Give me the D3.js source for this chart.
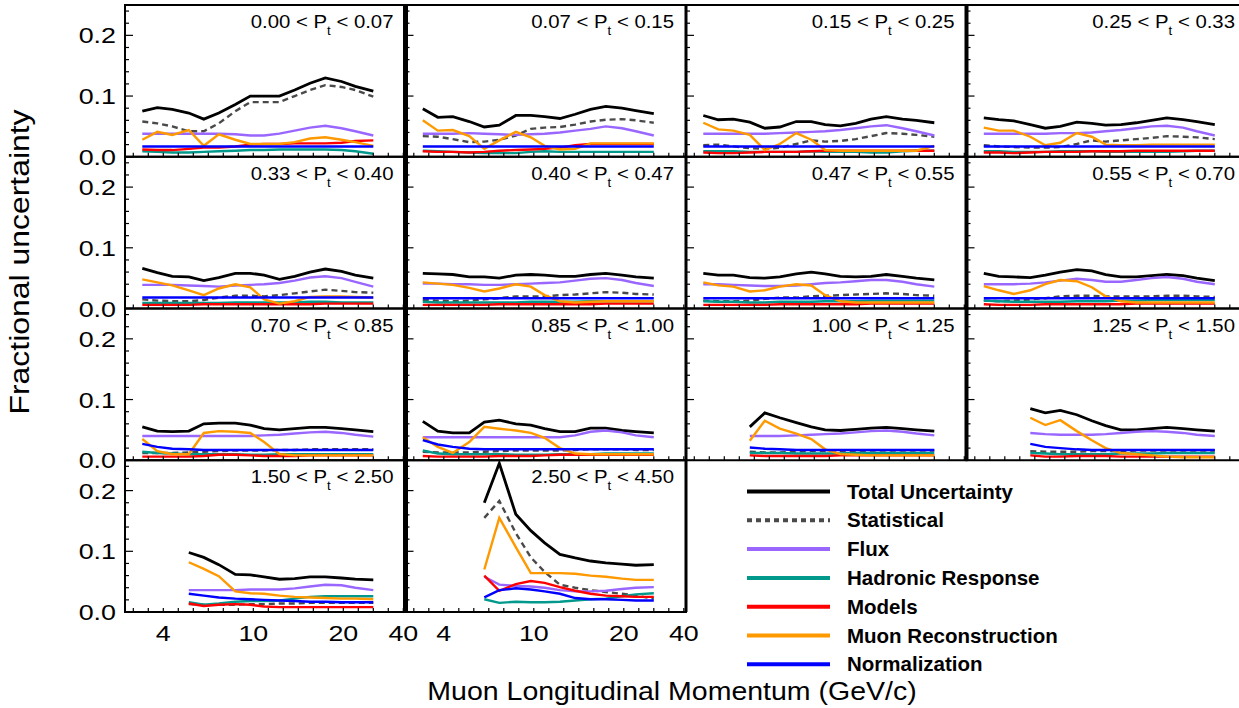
<!DOCTYPE html>
<html><head><meta charset="utf-8">
<script src="https://cdn.jsdelivr.net/npm/d3@7"></script>
<style>body{margin:0;background:#fff}svg{display:block}</style>
</head><body>
<svg id="chart" width="1239" height="708"></svg>
<script>
// ---------------- DATA ----------------
const ptEdges = ["0.00","0.07","0.15","0.25","0.33","0.40","0.47","0.55","0.70","0.85","1.00","1.25","1.50","2.50","4.50"];
// muon longitudinal momentum (GeV/c) of the plotted points
const pz = [2.6, 3.6, 4.6, 5.7, 6.7, 7.7, 8.8, 9.8, 11.2, 12.9, 14.6, 16.3, 18.0, 19.8, 24.0, 30.0];
const xTickLabels = [4, 10, 20, 40];
const xMinorTicks = [2,3,4,5,6,7,8,9,10,11.67,13.33,15,16.67,18.33,20,25,30,35,40];
const yTickLabels = [0.0, 0.1, 0.2];
const yMinorTicks = [0.02,0.04,0.06,0.08,0.12,0.14,0.16,0.18,0.22,0.24];
const seriesNames = ["Total Uncertainty","Statistical","Flux","Hadronic Response","Models","Muon Reconstruction","Normalization"];
const seriesColors = ["#000000","#4a4a4a","#9966ff","#00998c","#ff0000","#ff9900","#0000ff"];
const N = null;

const total = [
 [0.075,0.081,0.078,0.072,0.062,0.072,0.086,0.100,0.100,0.100,0.110,0.121,0.130,0.124,0.116,0.108],
 [0.079,0.065,0.066,0.058,0.049,0.052,0.068,0.068,0.066,0.063,0.070,0.078,0.083,0.080,0.076,0.071],
 [0.068,0.061,0.062,0.057,0.047,0.049,0.058,0.058,0.053,0.051,0.055,0.062,0.066,0.062,0.060,0.056],
 [0.064,0.061,0.059,0.053,0.047,0.050,0.057,0.055,0.052,0.053,0.056,0.060,0.064,0.061,0.058,0.053],
 [0.066,0.059,0.053,0.052,0.046,0.051,0.058,0.058,0.055,0.048,0.053,0.060,0.065,0.061,0.055,0.050],
 [0.058,0.057,0.056,0.052,0.052,0.050,0.055,0.056,0.055,0.053,0.053,0.056,0.058,0.055,0.052,0.050],
 [0.058,0.055,0.055,0.051,0.050,0.052,0.057,0.060,0.057,0.053,0.052,0.053,0.056,0.053,0.050,0.047],
 [0.058,0.053,0.052,0.051,0.055,0.060,0.064,0.062,0.056,0.052,0.052,0.054,0.056,0.054,0.050,0.046],
 [0.055,0.048,0.047,0.048,0.060,0.061,0.061,0.058,0.052,0.050,0.052,0.054,0.054,0.052,0.050,0.047],
 [0.064,0.048,0.045,0.045,0.063,0.066,0.060,0.058,0.052,0.047,0.047,0.053,0.053,0.049,0.047,0.045],
 [N,N,N,0.055,0.078,0.070,0.062,0.055,0.050,0.049,0.051,0.053,0.054,0.052,0.050,0.048],
 [N,N,N,0.085,0.078,0.082,0.075,0.065,0.057,0.050,0.050,0.052,0.054,0.052,0.050,0.048],
 [N,N,N,0.098,0.090,0.078,0.062,0.061,0.058,0.054,0.055,0.058,0.058,0.056,0.054,0.053],
 [N,N,N,N,0.180,0.245,0.161,0.134,0.114,0.095,0.089,0.084,0.081,0.079,0.077,0.078]
];
const statistical = [
 [0.058,0.055,0.050,0.042,0.042,0.055,0.075,0.090,0.090,0.090,0.100,0.110,0.118,0.115,0.110,0.099],
 [0.034,0.033,0.029,0.024,0.025,0.028,0.035,0.046,0.048,0.049,0.053,0.058,0.061,0.062,0.060,0.056],
 [0.019,0.020,0.017,0.014,0.013,0.015,0.021,0.027,0.025,0.026,0.029,0.034,0.039,0.038,0.036,0.033],
 [0.019,0.017,0.016,0.015,0.015,0.016,0.021,0.027,0.025,0.027,0.029,0.031,0.034,0.033,0.032,0.029],
 [0.015,0.013,0.012,0.012,0.014,0.018,0.021,0.021,0.020,0.022,0.025,0.028,0.031,0.029,0.027,0.026],
 [0.014,0.013,0.012,0.013,0.015,0.017,0.020,0.020,0.020,0.022,0.023,0.025,0.027,0.026,0.024,0.023],
 [0.013,0.012,0.012,0.013,0.016,0.018,0.018,0.020,0.021,0.022,0.023,0.024,0.025,0.024,0.022,0.021],
 [0.013,0.012,0.013,0.015,0.017,0.020,0.021,0.021,0.020,0.020,0.020,0.020,0.021,0.021,0.020,0.019],
 [0.012,0.012,0.012,0.013,0.014,0.015,0.016,0.016,0.016,0.017,0.017,0.018,0.018,0.018,0.018,0.018],
 [0.014,0.013,0.013,0.013,0.014,0.015,0.016,0.016,0.016,0.016,0.017,0.018,0.018,0.018,0.017,0.017],
 [N,N,N,0.014,0.013,0.013,0.014,0.015,0.015,0.015,0.015,0.016,0.016,0.016,0.016,0.016],
 [N,N,N,0.015,0.014,0.014,0.014,0.015,0.015,0.015,0.016,0.016,0.016,0.016,0.016,0.016],
 [N,N,N,0.013,0.012,0.012,0.012,0.013,0.013,0.014,0.014,0.015,0.015,0.015,0.015,0.015],
 [N,N,N,N,0.155,0.183,0.130,0.090,0.066,0.045,0.040,0.036,0.033,0.030,0.027,0.022]
];
const flux = [
 [0.038,0.038,0.038,0.038,0.038,0.038,0.037,0.035,0.035,0.038,0.043,0.048,0.051,0.047,0.042,0.035],
 [0.038,0.038,0.038,0.039,0.038,0.037,0.036,0.037,0.038,0.040,0.043,0.046,0.050,0.047,0.042,0.035],
 [0.038,0.038,0.038,0.038,0.038,0.039,0.040,0.041,0.042,0.044,0.047,0.050,0.052,0.047,0.042,0.035],
 [0.038,0.038,0.038,0.038,0.038,0.039,0.039,0.040,0.042,0.044,0.047,0.050,0.051,0.048,0.042,0.035],
 [0.039,0.039,0.039,0.038,0.037,0.036,0.038,0.039,0.040,0.042,0.046,0.051,0.053,0.050,0.044,0.036],
 [0.041,0.041,0.040,0.040,0.039,0.039,0.040,0.041,0.042,0.043,0.046,0.049,0.050,0.047,0.042,0.037],
 [0.040,0.040,0.039,0.038,0.037,0.037,0.038,0.040,0.042,0.043,0.045,0.047,0.047,0.044,0.040,0.036],
 [0.040,0.040,0.040,0.041,0.043,0.046,0.049,0.047,0.044,0.044,0.047,0.050,0.052,0.049,0.044,0.040],
 [0.040,0.040,0.040,0.040,0.040,0.040,0.040,0.040,0.041,0.042,0.044,0.046,0.047,0.045,0.042,0.039],
 [0.038,0.038,0.038,0.038,0.038,0.038,0.038,0.038,0.038,0.038,0.041,0.047,0.049,0.046,0.041,0.038],
 [N,N,N,0.040,0.040,0.040,0.041,0.042,0.043,0.044,0.046,0.048,0.049,0.047,0.044,0.041],
 [N,N,N,0.045,0.043,0.042,0.042,0.042,0.043,0.045,0.047,0.048,0.047,0.045,0.042,0.040],
 [N,N,N,0.036,0.036,0.036,0.036,0.037,0.037,0.037,0.039,0.042,0.045,0.044,0.040,0.036],
 [N,N,N,N,0.058,0.045,0.043,0.042,0.040,0.036,0.034,0.034,0.035,0.038,0.040,0.041]
];
const hadronic = [
 [0.009,0.008,0.007,0.007,0.008,0.009,0.010,0.011,0.011,0.012,0.012,0.012,0.012,0.011,0.009,0.005],
 [0.010,0.009,0.008,0.007,0.006,0.006,0.006,0.008,0.009,0.008,0.008,0.008,0.008,0.008,0.008,0.008],
 [0.009,0.009,0.009,0.008,0.008,0.008,0.008,0.009,0.008,0.008,0.008,0.007,0.007,0.009,0.010,0.010],
 [0.009,0.009,0.008,0.008,0.008,0.009,0.009,0.009,0.008,0.008,0.008,0.008,0.008,0.009,0.010,0.010],
 [0.009,0.009,0.009,0.009,0.009,0.009,0.010,0.010,0.010,0.010,0.010,0.011,0.011,0.010,0.010,0.010],
 [0.011,0.010,0.010,0.010,0.010,0.010,0.010,0.011,0.011,0.011,0.011,0.012,0.012,0.012,0.012,0.012],
 [0.012,0.011,0.011,0.010,0.010,0.011,0.011,0.011,0.012,0.012,0.012,0.013,0.013,0.013,0.013,0.013],
 [0.013,0.012,0.011,0.011,0.011,0.011,0.012,0.012,0.012,0.013,0.013,0.014,0.014,0.014,0.014,0.014],
 [0.014,0.012,0.011,0.010,0.010,0.010,0.010,0.009,0.009,0.010,0.010,0.010,0.010,0.010,0.010,0.010],
 [0.016,0.011,0.010,0.010,0.010,0.010,0.009,0.009,0.009,0.010,0.010,0.010,0.011,0.011,0.011,0.011],
 [N,N,N,0.012,0.012,0.012,0.011,0.011,0.011,0.011,0.012,0.012,0.012,0.012,0.012,0.012],
 [N,N,N,0.012,0.011,0.010,0.010,0.010,0.010,0.011,0.011,0.011,0.012,0.012,0.012,0.012],
 [N,N,N,0.016,0.012,0.014,0.017,0.018,0.018,0.019,0.022,0.025,0.026,0.026,0.026,0.026],
 [N,N,N,N,0.021,0.015,0.017,0.016,0.016,0.017,0.019,0.021,0.022,0.026,0.029,0.031]
];
const models = [
 [0.012,0.011,0.011,0.013,0.015,0.015,0.017,0.020,0.021,0.021,0.022,0.022,0.022,0.023,0.026,0.027],
 [0.009,0.008,0.008,0.007,0.008,0.010,0.011,0.012,0.013,0.015,0.019,0.021,0.021,0.021,0.021,0.021],
 [0.007,0.006,0.006,0.007,0.008,0.008,0.008,0.009,0.010,0.010,0.010,0.010,0.010,0.010,0.010,0.010],
 [0.007,0.007,0.006,0.007,0.008,0.008,0.008,0.009,0.009,0.009,0.010,0.010,0.010,0.010,0.010,0.010],
 [0.006,0.006,0.006,0.006,0.007,0.007,0.007,0.007,0.007,0.007,0.007,0.007,0.008,0.008,0.008,0.008],
 [0.006,0.006,0.006,0.006,0.006,0.007,0.007,0.007,0.007,0.007,0.007,0.007,0.008,0.008,0.008,0.008],
 [0.006,0.006,0.006,0.006,0.006,0.007,0.007,0.007,0.007,0.007,0.007,0.008,0.008,0.008,0.008,0.008],
 [0.007,0.006,0.006,0.006,0.007,0.007,0.007,0.007,0.007,0.007,0.008,0.008,0.008,0.008,0.008,0.008],
 [0.006,0.006,0.006,0.006,0.007,0.009,0.009,0.008,0.007,0.007,0.007,0.008,0.008,0.008,0.008,0.008],
 [0.007,0.006,0.006,0.006,0.006,0.007,0.007,0.007,0.008,0.009,0.009,0.009,0.009,0.009,0.009,0.009],
 [N,N,N,0.008,0.007,0.007,0.007,0.007,0.007,0.008,0.008,0.008,0.008,0.008,0.008,0.008],
 [N,N,N,0.008,0.006,0.006,0.007,0.007,0.007,0.006,0.006,0.006,0.006,0.006,0.006,0.006],
 [N,N,N,0.014,0.010,0.012,0.013,0.012,0.009,0.008,0.008,0.008,0.008,0.008,0.008,0.008],
 [N,N,N,N,0.060,0.035,0.046,0.051,0.048,0.041,0.035,0.030,0.027,0.026,0.025,0.025]
];
const muonReco = [
 [0.028,0.041,0.036,0.044,0.018,0.037,0.028,0.021,0.021,0.021,0.024,0.030,0.032,0.028,0.024,0.018],
 [0.060,0.043,0.044,0.034,0.013,0.027,0.041,0.032,0.018,0.012,0.013,0.022,0.022,0.022,0.022,0.022],
 [0.056,0.045,0.043,0.036,0.011,0.021,0.039,0.028,0.011,0.010,0.010,0.010,0.010,0.010,0.010,0.018],
 [0.048,0.043,0.043,0.033,0.019,0.023,0.039,0.033,0.020,0.019,0.019,0.020,0.020,0.020,0.020,0.020],
 [0.048,0.043,0.038,0.030,0.022,0.033,0.040,0.035,0.015,0.008,0.012,0.019,0.020,0.020,0.019,0.018],
 [0.043,0.041,0.039,0.034,0.028,0.033,0.040,0.036,0.022,0.012,0.010,0.011,0.012,0.012,0.012,0.012],
 [0.043,0.038,0.036,0.028,0.030,0.036,0.040,0.038,0.022,0.012,0.010,0.010,0.010,0.010,0.010,0.010],
 [0.037,0.030,0.024,0.030,0.040,0.047,0.045,0.035,0.020,0.012,0.010,0.010,0.010,0.010,0.010,0.010],
 [0.035,0.015,0.010,0.010,0.045,0.048,0.047,0.045,0.030,0.010,0.008,0.008,0.008,0.008,0.008,0.008],
 [0.038,0.022,0.012,0.030,0.055,0.052,0.049,0.045,0.037,0.020,0.011,0.010,0.010,0.010,0.010,0.010],
 [N,N,N,0.032,0.065,0.052,0.044,0.035,0.018,0.010,0.009,0.008,0.008,0.008,0.008,0.008],
 [N,N,N,0.070,0.058,0.066,0.048,0.033,0.020,0.012,0.010,0.008,0.006,0.005,0.005,0.005],
 [N,N,N,0.082,0.071,0.059,0.034,0.031,0.030,0.027,0.025,0.024,0.023,0.022,0.022,0.021],
 [N,N,N,N,0.070,0.155,0.107,0.064,0.064,0.064,0.063,0.060,0.058,0.055,0.053,0.053]
];
const normalization = [
 [0.017,0.017,0.017,0.017,0.017,0.017,0.017,0.017,0.017,0.017,0.017,0.017,0.017,0.017,0.017,0.017],
 [0.017,0.017,0.017,0.017,0.017,0.017,0.017,0.017,0.017,0.017,0.017,0.017,0.017,0.017,0.017,0.017],
 [0.017,0.017,0.017,0.017,0.017,0.017,0.017,0.017,0.017,0.017,0.017,0.017,0.017,0.017,0.017,0.017],
 [0.017,0.017,0.017,0.017,0.017,0.017,0.017,0.017,0.017,0.017,0.017,0.017,0.017,0.017,0.017,0.017],
 [0.018,0.018,0.018,0.018,0.018,0.018,0.018,0.018,0.018,0.018,0.018,0.018,0.018,0.018,0.018,0.018],
 [0.017,0.017,0.017,0.017,0.017,0.017,0.017,0.017,0.017,0.017,0.017,0.017,0.017,0.017,0.017,0.017],
 [0.017,0.017,0.017,0.017,0.017,0.017,0.017,0.017,0.017,0.017,0.017,0.017,0.017,0.017,0.017,0.017],
 [0.017,0.017,0.017,0.017,0.017,0.017,0.017,0.017,0.017,0.017,0.017,0.017,0.017,0.017,0.017,0.017],
 [0.027,0.022,0.019,0.018,0.017,0.017,0.017,0.017,0.017,0.017,0.017,0.017,0.017,0.017,0.017,0.017],
 [0.033,0.026,0.022,0.019,0.018,0.018,0.018,0.018,0.018,0.018,0.018,0.018,0.018,0.018,0.018,0.018],
 [N,N,N,0.021,0.019,0.018,0.017,0.017,0.017,0.017,0.017,0.017,0.017,0.017,0.017,0.017],
 [N,N,N,0.027,0.022,0.020,0.018,0.017,0.017,0.017,0.017,0.017,0.017,0.017,0.017,0.017],
 [N,N,N,0.030,0.027,0.024,0.022,0.021,0.020,0.019,0.018,0.017,0.017,0.016,0.016,0.016],
 [N,N,N,N,0.024,0.036,0.039,0.037,0.034,0.030,0.023,0.021,0.021,0.020,0.019,0.019]
];
const seriesData = [total, statistical, flux, hadronic, models, muonReco, normalization];

// ---------------- LAYOUT ----------------
const LEFT = 125, TOP = 5, PW = 280.5, PH = 151.75;
const FONT = "'Liberation Sans', Arial, Helvetica, sans-serif";
const svg = d3.select("#chart");

const x = d3.scaleLinear().domain([2, 4, 10, 20, 40]).range([8.3, 38.3, 128.3, 218.3, 278.3]);
const y = d3.scaleLinear().domain([0, 0.25]).range([PH, 0]);

function sText(parent, tx, ty, str, size, anchor, sx, extra) {
  const t = parent.append("text")
    .attr("transform", `translate(${tx},${ty}) ${extra || ""} scale(${sx},1)`)
    .attr("text-anchor", anchor)
    .attr("font-family", FONT)
    .attr("font-size", size)
    .attr("fill", "#000");
  if (str !== null) t.text(str);
  return t;
}

const line = d3.line()
  .defined(d => d[1] !== null)
  .x(d => x(d[0]))
  .y(d => y(d[1]));

for (let p = 0; p < 14; p++) {
  const row = Math.floor(p / 4), col = p % 4;
  const ox = LEFT + col * PW, oy = TOP + row * PH;
  const g = svg.append("g").attr("transform", `translate(${ox},${oy})`);
  g.append("clipPath").attr("id", "clip" + p)
    .append("rect").attr("x", 0).attr("y", 0).attr("width", PW).attr("height", PH);
  const lines = g.append("g").attr("clip-path", `url(#clip${p})`);
  seriesData.forEach((s, si) => {
    const pts = pz.map((v, i) => [v, s[p][i]]);
    lines.append("path")
      .attr("d", line(pts))
      .attr("fill", "none")
      .attr("stroke", seriesColors[si])
      .attr("stroke-width", si === 0 ? 2.8 : 2.4)
      .attr("stroke-dasharray", si === 1 ? "6,4" : null)
      .attr("stroke-linejoin", "miter");
  });
  // y ticks (inward on left axis)
  yTickLabels.forEach(v => g.append("line").attr("x1", 0).attr("x2", 8)
    .attr("y1", y(v)).attr("y2", y(v)).attr("stroke", "#000").attr("stroke-width", 1.2));
  yMinorTicks.forEach(v => g.append("line").attr("x1", 0).attr("x2", 4)
    .attr("y1", y(v)).attr("y2", y(v)).attr("stroke", "#000").attr("stroke-width", 1.2));
  // x ticks (inward on bottom axis)
  xMinorTicks.forEach(v => g.append("line").attr("x1", x(v)).attr("x2", x(v))
    .attr("y1", PH).attr("y2", PH - 4).attr("stroke", "#000").attr("stroke-width", 1.2));
  // frame
  g.append("rect").attr("x", 0).attr("y", 0).attr("width", PW).attr("height", PH)
    .attr("fill", "none").attr("stroke", "#000").attr("stroke-width", 2);
  // title
  const t = sText(g, PW - 12, 23, null, 18.5, "end", 1.1);
  t.append("tspan").text(`${ptEdges[p]} < P`);
  t.append("tspan").attr("font-size", 12).attr("dy", 7).text("t");
  t.append("tspan").attr("dy", -7).text(` < ${ptEdges[p + 1]}`);

  // y tick labels on left column
  if (col === 0) {
    yTickLabels.forEach(v => sText(svg, 116, oy + y(v) + 8, v.toFixed(1), 22, "end", 1.22));
  }
  // x tick labels below bottom-row panels
  if (row === 3) {
    xTickLabels.forEach(v => sText(svg, ox + x(v), 641, String(v), 22, "middle", 1.22));
  }
}

// thick column separators
[[1, 4, 5], [2, 4, 3], [3, 3, 4]].forEach(([c, nrows, w]) => {
  svg.append("line").attr("x1", LEFT + c * PW).attr("x2", LEFT + c * PW)
    .attr("y1", TOP).attr("y2", TOP + nrows * PH)
    .attr("stroke", "#000").attr("stroke-width", w);
});

// axis titles
sText(svg, 672, 700, "Muon Longitudinal Momentum (GeV/c)", 25, "middle", 1.14);
sText(svg, 29, 262, "Fractional uncertainty", 28, "middle", 1.14, "rotate(-90)");

// legend
const legY0 = 491.5, legDy = 28.8;
seriesNames.forEach((name, i) => {
  const ly = legY0 + i * legDy;
  svg.append("line").attr("x1", 747).attr("x2", 830).attr("y1", ly).attr("y2", ly)
    .attr("stroke", seriesColors[i]).attr("stroke-width", 4)
    .attr("stroke-dasharray", i === 1 ? "5,4" : null);
  svg.append("text").attr("x", 847).attr("y", ly + 7)
    .attr("font-family", FONT).attr("font-size", 20.5).attr("font-weight", "bold")
    .text(name);
});
</script>
</body></html>
